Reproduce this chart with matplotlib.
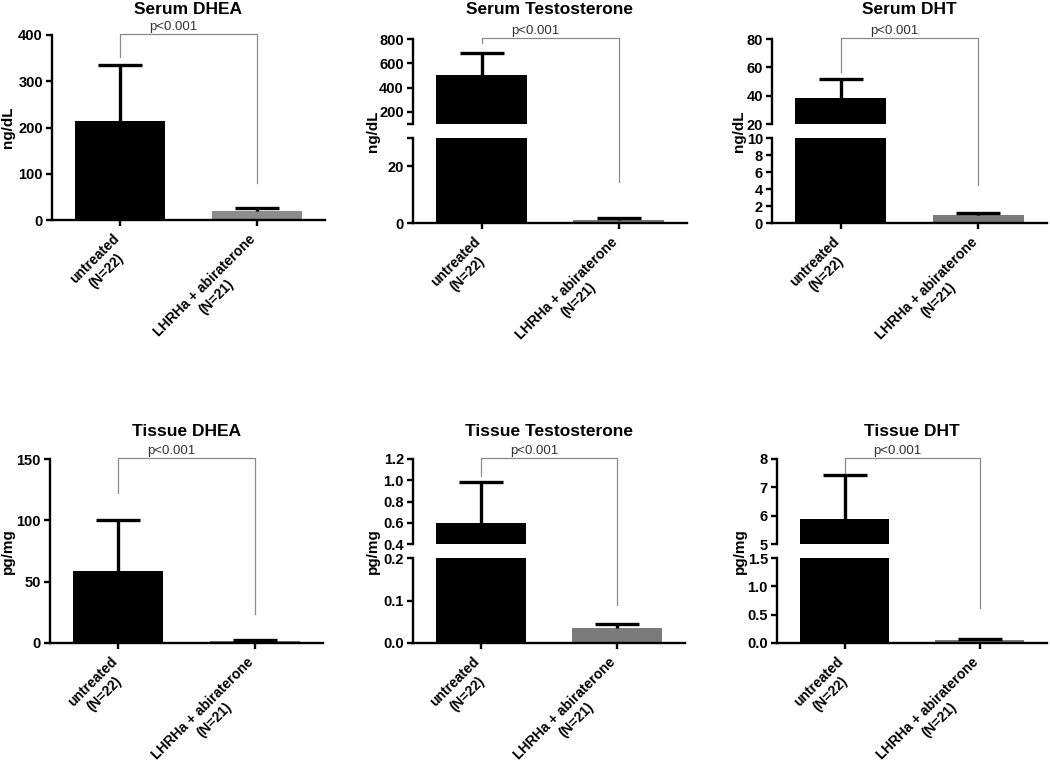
import numpy as np
import matplotlib
matplotlib.use("Agg")
from matplotlib import pyplot as plt
from matplotlib.lines import Line2D

plt.rcParams["font.family"] = ["Liberation Sans", "DejaVu Sans"]

W, H = 1050, 760

# 데이터
titles = ["Serum DHEA", "Serum Testosterone", "Serum DHT",
          "Tissue DHEA", "Tissue Testosterone", "Tissue DHT"]
units = ["ng/dL", "ng/dL", "ng/dL", "pg/mg", "pg/mg", "pg/mg"]
group_names = ["untreated", "LHRHa + abiraterone"]
group_n = ["(N=22)", "(N=21)"]
untreated_mean = [215, 504, 38.5, 58.5, 0.595, 5.9]
untreated_err = [121, 178, 13, 41.5, 0.385, 1.53]
treated_mean = [19, 0.9, 1.0, 1.6, 0.036, 0.06]
treated_err = [7.5, 0.8, 0.2, 0.8, 0.008, 0.018]
p_text = "p<0.001"
# bracket leg ends (left leg in upper axis, right leg in lower axis)
bracket_left = [352, 767, 57, 122, 1.04, 7.5]
bracket_right = [80, 14.3, 4.5, 24, 0.089, 0.62]

# 축 설정: upper = 위쪽(또는 단일) 축, lower = 끊긴 축의 아래쪽, None -> 끊김 없음
upper_lims = [(0, 400), (100, 800), (20, 80), (0, 150), (0.4, 1.2), (5, 8)]
upper_ticks = [[0, 100, 200, 300, 400], [100, 200, 400, 600, 800], [20, 40, 60, 80],
               [0, 50, 100, 150], [0.4, 0.6, 0.8, 1.0, 1.2], [5, 6, 7, 8]]
upper_labels = [["0", "100", "200", "300", "400"], ["", "200", "400", "600", "800"],
                ["20", "40", "60", "80"], ["0", "50", "100", "150"],
                ["0.4", "0.6", "0.8", "1.0", "1.2"], ["5", "6", "7", "8"]]
lower_lims = [None, (0, 30), (0, 10), None, (0, 0.2), (0, 1.5)]
lower_ticks = [None, [0, 20, 30], [0, 2, 4, 6, 8, 10], None, [0, 0.1, 0.2], [0, 0.5, 1.0, 1.5]]
lower_labels = [None, ["0", "20", ""], ["0", "2", "4", "6", "8", "10"], None,
                ["0.0", "0.1", "0.2"], ["0.0", "0.5", "1.0", "1.5"]]

gray_colors = ["#8c8c8c", "#7a7a7a", "#7a7a7a", "#7a7a7a", "#7a7a7a", "#7a7a7a"]

# 위치 (픽셀)
lefts = [52, 413, 772, 50, 413, 777]
rights = [325, 687, 1047, 323, 685, 1047]
row_of = [0, 0, 0, 1, 1, 1]
single_tb = [(35, 220), (459, 643)]
broken_tb = [(39, 124, 138, 223), (459, 544, 558, 643)]
title_y = [9, 432]
ylabel_off = [44, 40, 33, 42, 40, 37]

XLAB_SIZE = 10
XLAB_OFF = (-6.0, -8.5)   # points, top-right of first line relative to tick
LINE_GAP = 1.2 * XLAB_SIZE

fig = plt.figure(figsize=(W / 100, H / 100), dpi=100)
renderer = fig.canvas.get_renderer()


def px_axes(l, r, t, b):
    return fig.add_axes([l / W, 1 - b / H, (r - l) / W, (b - t) / H])


def style(ax, bottom=True):
    ax.spines["top"].set_visible(False)
    ax.spines["right"].set_visible(False)
    ax.spines["left"].set_linewidth(1.7)
    ax.spines["bottom"].set_linewidth(1.7)
    ax.tick_params(direction="out", length=4, width=1.7, labelsize=10.5, pad=2.5)
    for lab in ax.get_yticklabels():
        lab.set_fontweight("bold")
    if not bottom:
        ax.spines["bottom"].set_visible(False)
        ax.tick_params(axis="x", bottom=False, labelbottom=False)


def draw_bars(ax, i):
    x = np.arange(2)
    means = [untreated_mean[i], treated_mean[i]]
    errs = [untreated_err[i], treated_err[i]]
    ax.bar(x, means, width=0.66, color=["black", gray_colors[i]], zorder=2)
    ax.errorbar(x, means, yerr=[[0, 0], errs], fmt="none", ecolor="black",
                elinewidth=2.4, capsize=0, zorder=3)
    ax.plot(x, np.array(means) + np.array(errs), ls="none", marker="_",
            ms=32, mew=2.4, color="black", zorder=3)
    ax.set_xlim(-0.5, 1.5)


def text_width_pt(s):
    t = fig.text(0, 0, s, fontsize=XLAB_SIZE, fontweight="bold")
    w = t.get_window_extent(renderer=renderer).width * 72 / fig.dpi
    t.remove()
    return w


def xlabels(ax):
    ax.set_xticks([0, 1])
    ax.tick_params(axis="x", labelbottom=False)
    c = np.cos(np.radians(45))
    for k in range(2):
        ox, oy = XLAB_OFF
        ax.annotate(group_names[k], xy=(k, 0), xycoords=ax.get_xaxis_transform(),
                    xytext=(ox, oy), textcoords="offset points", rotation=45,
                    rotation_mode="anchor", ha="right", va="top",
                    fontsize=XLAB_SIZE, fontweight="bold", annotation_clip=False)
        half = text_width_pt(group_names[k]) / 2
        # 두 번째 줄은 첫 줄 가운데 아래로
        ox2 = ox - half * c + LINE_GAP * c
        oy2 = oy - half * c - LINE_GAP * c
        ax.annotate(group_n[k], xy=(k, 0), xycoords=ax.get_xaxis_transform(),
                    xytext=(ox2, oy2), textcoords="offset points", rotation=45,
                    rotation_mode="anchor", ha="center", va="top",
                    fontsize=XLAB_SIZE, fontweight="bold", annotation_clip=False)


for i in range(6):
    l, r = lefts[i], rights[i]
    row = row_of[i]
    if lower_lims[i] is None:
        t, b = single_tb[row]
        ax_top = px_axes(l, r, t, b)
        ax_low = ax_top
        draw_bars(ax_top, i)
        ax_top.set_ylim(*upper_lims[i])
        ax_top.set_yticks(upper_ticks[i], upper_labels[i])
        style(ax_top)
        y_top, y_bot = t, b
    else:
        t1, b1, t2, b2 = broken_tb[row]
        ax_top = px_axes(l, r, t1, b1)
        ax_low = px_axes(l, r, t2, b2)
        draw_bars(ax_top, i)
        draw_bars(ax_low, i)
        ax_top.set_ylim(*upper_lims[i])
        ax_top.set_yticks(upper_ticks[i], upper_labels[i])
        ax_low.set_ylim(*lower_lims[i])
        ax_low.set_yticks(lower_ticks[i], lower_labels[i])
        style(ax_top, bottom=False)
        style(ax_low)
        y_top, y_bot = t1, b2

    xlabels(ax_low)

    # 제목, y축 라벨
    fig.text((l + r) / 2 / W, 1 - title_y[row] / H, titles[i], ha="center",
             va="center", fontsize=12.5, fontweight="bold")
    fig.text((l - ylabel_off[i]) / W, 1 - (y_top + y_bot) / 2 / H, units[i],
             rotation=90, ha="center", va="center", fontsize=11, fontweight="bold")

    # p-value bracket
    to_fig = fig.transFigure.inverted()
    p_top_l = to_fig.transform(ax_top.transData.transform((0, upper_lims[i][1])))
    p_top_r = to_fig.transform(ax_top.transData.transform((1, upper_lims[i][1])))
    p_left = to_fig.transform(ax_top.transData.transform((0, bracket_left[i])))
    p_right = to_fig.transform(ax_low.transData.transform((1, bracket_right[i])))
    fig.add_artist(Line2D([p_left[0], p_top_l[0], p_top_r[0], p_right[0]],
                          [p_left[1], p_top_l[1] + 1 / H, p_top_r[1] + 1 / H, p_right[1]],
                          color="#8a8a8a", lw=0.9, transform=fig.transFigure))
    px_mid = to_fig.transform(ax_top.transData.transform((0.39, upper_lims[i][1])))
    fig.text(px_mid[0], px_mid[1] + 2 / H, p_text, ha="center", va="bottom",
             fontsize=9.5, color="#333333")

fig.savefig("out.png", dpi=100)
